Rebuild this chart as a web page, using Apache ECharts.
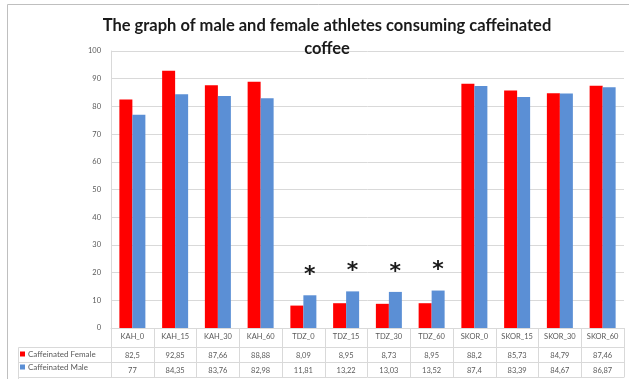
<!DOCTYPE html>
<html>
<head>
<meta charset="utf-8">
<script src="https://cdn.jsdelivr.net/npm/echarts@6/dist/echarts.min.js"></script>
<style>
  html, body { margin: 0; padding: 0; background: #ffffff; }
  #chart { width: 629px; height: 379px; }
</style>
</head>
<body>
<div id="chart"></div>
<script>
// Test groups (caffeinated coffee, per time point)
const categories = ['KAH_0', 'KAH_15', 'KAH_30', 'KAH_60', 'TDZ_0', 'TDZ_15', 'TDZ_30', 'TDZ_60', 'SKOR_0', 'SKOR_15', 'SKOR_30', 'SKOR_60'];
const femaleValues = [82.5, 92.85, 87.66, 88.88, 8.09, 8.95, 8.73, 8.95, 88.2, 85.73, 84.79, 87.46];
const maleValues = [77, 84.35, 83.76, 82.98, 11.81, 13.22, 13.03, 13.52, 87.4, 83.39, 84.67, 86.87];
// Significance markers shown above the male bars
const significance = ['', '', '', '', '*', '*', '*', '*', '', '', '', ''];
const yTicks = [0, 10, 20, 30, 40, 50, 60, 70, 80, 90, 100];

const seriesNames = ['Caffeinated Female', 'Caffeinated Male'];
const colors = ['#ff0000', '#5b8fd5'];
const gridColor = '#d9d9d9';
const textColor = '#595959';
const fontFamily = 'Lato, "Liberation Sans", sans-serif';

const commaDecimal = v => String(v).replace('.', ',');

const chart = echarts.init(document.getElementById('chart'), null, { renderer: 'canvas' });

const tableAxis = (offset, values, showLabel) => ({
  type: 'category',
  gridIndex: 0,
  position: 'bottom',
  offset: offset,
  data: categories,
  axisLine: { show: true, lineStyle: { color: gridColor, width: 1 } },
  axisTick: { show: false },
  axisLabel: {
    show: showLabel,
    interval: 0,
    margin: 5,
    fontSize: 7.5,
    color: textColor,
    fontFamily: fontFamily,
    formatter: (val, idx) => values ? commaDecimal(values[idx]) : val
  },
  splitLine: { show: false }
});

const option = {
  backgroundColor: '#ffffff',
  animation: false,
  title: {
    text: 'The graph of male and female athletes consuming caffeinated\ncoffee',
    left: 322,
    textAlign: 'center',
    top: 9,
    textStyle: {
      fontFamily: fontFamily,
      fontWeight: 'bold',
      fontSize: 16.5,
      lineHeight: 23,
      color: '#1a1a1a'
    }
  },
  legend: {
    orient: 'vertical',
    left: 20,
    top: 350,
    height: 30,
    padding: 0,
    itemWidth: 5,
    itemHeight: 5,
    itemGap: 5,
    icon: 'rect',
    data: seriesNames,
    textStyle: { fontSize: 8, color: textColor, fontFamily: fontFamily, padding: [0, 0, 0, -2] }
  },
  grid: { left: 111, right: 5, top: 51, bottom: 51, containLabel: false },
  xAxis: [
    {
      type: 'category',
      position: 'bottom',
      data: categories,
      axisLine: { show: true, lineStyle: { color: gridColor, width: 1 } },
      axisTick: { show: true, alignWithLabel: false, length: 49, lineStyle: { color: gridColor } },
      axisLabel: { interval: 0, margin: 5, fontSize: 7.5, color: textColor, fontFamily: fontFamily },
      splitLine: { show: false }
    },
    tableAxis(19, femaleValues, true),
    tableAxis(34, maleValues, true),
    tableAxis(49, null, false)
  ],
  yAxis: {
    type: 'value',
    min: 0,
    max: 100,
    interval: 10,
    axisLine: { show: true, lineStyle: { color: gridColor } },
    axisTick: { show: false },
    axisLabel: { margin: 10, fontSize: 7.5, color: textColor, fontFamily: fontFamily },
    splitLine: { show: true, lineStyle: { color: gridColor, width: 1 } }
  },
  series: [
    {
      name: seriesNames[0],
      type: 'bar',
      xAxisIndex: 0,
      barWidth: 13,
      barGap: '0%',
      itemStyle: { color: colors[0] },
      data: femaleValues
    },
    {
      name: seriesNames[1],
      type: 'bar',
      xAxisIndex: 0,
      barWidth: 13,
      barGap: '0%',
      itemStyle: { color: colors[1] },
      data: maleValues.map((v, i) => ({
        value: v,
        label: {
          show: significance[i] !== '',
          position: 'top',
          distance: 9,
          formatter: significance[i],
          fontSize: 22,
          fontWeight: 'bold',
          color: '#1a1a1a',
          fontFamily: '"DejaVu Sans", sans-serif'
        }
      }))
    }
  ],
  graphic: [
    // chart frame
    { type: 'polyline', silent: true, shape: { points: [[7.5, 379], [7.5, 4.5], [629, 4.5]] }, style: { stroke: '#bfbfbf', lineWidth: 1, fill: null } },
    // series-name column of the data table
    { type: 'line', silent: true, shape: { x1: 18.5, y1: 347.5, x2: 18.5, y2: 379 }, style: { stroke: gridColor, lineWidth: 1 } },
    { type: 'line', silent: true, shape: { x1: 18.5, y1: 347.5, x2: 111, y2: 347.5 }, style: { stroke: gridColor, lineWidth: 1 } },
    { type: 'line', silent: true, shape: { x1: 18.5, y1: 362.5, x2: 111, y2: 362.5 }, style: { stroke: gridColor, lineWidth: 1 } },
    { type: 'line', silent: true, shape: { x1: 18.5, y1: 377.5, x2: 111, y2: 377.5 }, style: { stroke: gridColor, lineWidth: 1 } }
  ]
};

chart.setOption(option);
</script>
</body>
</html>
